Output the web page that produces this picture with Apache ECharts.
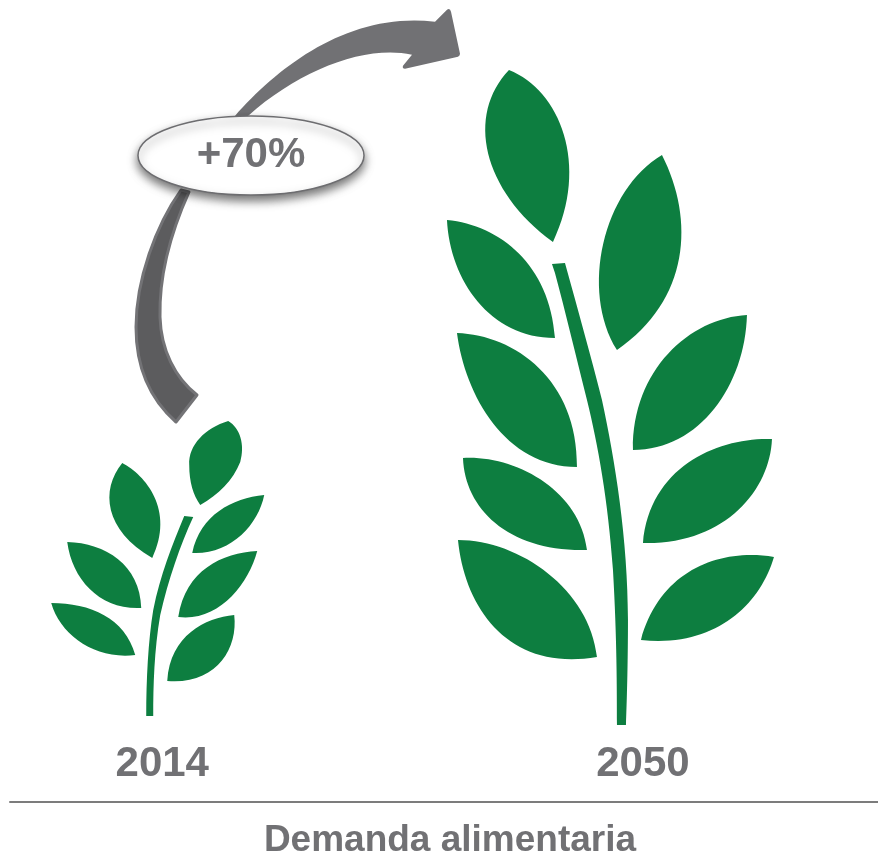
<!DOCTYPE html>
<html>
<head>
<meta charset="utf-8">
<title>Demanda alimentaria</title>
<script src="https://cdn.jsdelivr.net/npm/echarts@6/dist/echarts.min.js"></script>
<style>
    html, body { margin: 0; padding: 0; background: #fff; }
    #main { width: 878px; height: 853px; }
</style>
</head>
<body>
<div id="main"></div>
<script>
'use strict';

// datos
var years = [2014, 2050];
var demand = [100, 170];
var increaseLabel = '+70%';
var axisTitle = 'Demanda alimentaria';

var GREEN = '#0d7e40';
var GREY = '#717174';
var FONT = '"Liberation Sans", Arial, sans-serif';

// planta pequena, un subtrazado por hoja y el tallo al final
var plantSmall = [
    'M50 420L50 420M264 716L264 716',
    'M228 421C205 428 188 445 189 465C189 482 193 495 200 505C218 495 233 480 240 462C245 445 240 428 228 421Z',
    'M122 463C100 490 104 530 152 558C175 510 145 475 122 463Z',
    'M264 495C232 498 200 515 192 553C230 555 258 525 264 495Z',
    'M257 551C222 553 185 570 178 617C218 622 248 585 257 551Z',
    'M234 615C205 618 170 635 167 681C215 685 238 650 234 615Z',
    'M67 542C105 543 140 565 141 608C100 610 72 580 67 542Z',
    'M51 603C90 603 125 618 135 655C95 660 60 635 51 603Z',
    'M184 516L193 517C180 545 168 580 160 615C154 650 153 685 153 716L146 716C146 680 148 640 153 610C160 575 172 545 184 516Z'
].join('');

// planta grande
var plantBig = [
    'M446 70L446 70M775 725L775 725',
    'M509 70C466 115 482 190 553 242C590 165 560 90 509 70Z',
    'M662 155C603 190 580 290 617 350C690 300 695 220 662 155Z',
    'M447 220C450 280 490 338 555 338C550 265 500 225 447 220Z',
    'M457 333C465 395 505 467 577 467C578 380 515 335 457 333Z',
    'M463 458C465 510 510 552 587 550C580 490 515 455 463 458Z',
    'M458 540C465 610 510 672 597 657C590 590 520 540 458 540Z',
    'M747 315C690 318 632 370 633 450C700 450 745 385 747 315Z',
    'M772 439C720 437 650 465 643 543C725 545 770 490 772 439Z',
    'M774 557C720 548 660 570 641 640C715 648 760 605 774 557Z',
    'M552 264L565 263C578 310 592 360 602 400C615 460 628 540 628 620C628 660 627 700 626 725L617 725C617 690 617 640 613 570C608 500 598 445 587 400C577 360 565 310 555 273Z'
].join('');

var plantPaths = [plantSmall, plantBig];
// caja de cada planta respecto a su punto (x del ano, y de la punta)
var plantBoxes = [
    { dx: -112, w: 214, h: 296 },
    { dx: -197, w: 329, h: 655 }
];

var arrowTop = 'M235 116C280 65 350 12 435 22L447 10Q450 8 451 12L460 54Q460 56 458 57L405 69Q402 69 403 66L412 55C365 45 300 70 248 116Z';
var arrowBottom = 'M181 190L189 192C171 232 159 275 160 317C161 350 175 378 197 395L176 422C151 400 136 370 136 327C136 280 156 225 181 190Z';

$main();

function $main() {
    var seriesData = years.map(function(year, i) {
        return [year, demand[i]];
    });

    var option = {
        animation: false,
        backgroundColor: '#fff',
        grid: {
            left: 10,
            right: 0,
            top: 0,
            bottom: 51,
            outerBoundsMode: 'none'
        },
        xAxis: {
            type: 'value',
            min: 2002.6,
            max: 2067.6,
            axisLine: {
                show: true,
                lineStyle: { color: '#7c7c7c', width: 2 }
            },
            axisTick: { show: false },
            splitLine: { show: false },
            axisLabel: {
                inside: true,
                customValues: years,
                margin: 17,
                color: GREY,
                fontFamily: FONT,
                fontWeight: 'bold',
                fontSize: 42,
                formatter: function(value) {
                    return String(value);
                }
            },
            name: axisTitle,
            nameLocation: 'middle',
            nameGap: 20,
            nameTextStyle: {
                color: GREY,
                fontFamily: FONT,
                fontWeight: 'bold',
                fontSize: 37,
                padding: [0, 0, 0, 12]
            }
        },
        yAxis: {
            type: 'value',
            show: false,
            min: 23.6,
            max: 184
        },
        series: [{
            type: 'custom',
            clip: false,
            data: seriesData,
            encode: { x: 0, y: 1 },
            renderItem: function(params, api) {
                var i = params.dataIndex;
                var box = plantBoxes[i];
                var top = api.coord([api.value(0), api.value(1)]);
                return {
                    type: 'path',
                    shape: {
                        pathData: plantPaths[i],
                        x: top[0] + box.dx,
                        y: top[1],
                        width: box.w,
                        height: box.h,
                        layout: 'cover'
                    },
                    style: { fill: GREEN }
                };
            }
        }, {
            // flecha y globo del aumento
            type: 'custom',
            clip: false,
            silent: true,
            data: [seriesData[0]],
            encode: { x: 0, y: 1 },
            renderItem: function() {
                return {
                    type: 'group',
                    children: [{
                        type: 'path',
                        shape: {
                            pathData: arrowTop,
                            x: 235,
                            y: 9,
                            width: 225,
                            height: 107,
                            layout: 'cover'
                        },
                        style: { fill: GREY }
                    }, {
                        type: 'path',
                        shape: {
                            pathData: arrowBottom,
                            x: 136,
                            y: 190,
                            width: 61,
                            height: 232,
                            layout: 'cover'
                        },
                        style: { fill: '#5c5c5e', stroke: '#737376', lineWidth: 3, lineJoin: 'round' }
                    }, {
                        type: 'ellipse',
                        shape: { cx: 251, cy: 155.5, rx: 113, ry: 39.5 },
                        style: {
                            fill: '#fff',
                            stroke: '#6d6d70',
                            lineWidth: 1.5,
                            shadowBlur: 10,
                            shadowOffsetY: 5,
                            shadowColor: 'rgba(0, 0, 0, 0.55)'
                        }
                    }, {
                        type: 'text',
                        x: 251,
                        y: 155,
                        style: {
                            text: increaseLabel,
                            fill: GREY,
                            font: 'bold 42px ' + FONT,
                            textAlign: 'center',
                            textVerticalAlign: 'middle'
                        }
                    }]
                };
            }
        }]
    };

    var myChart = echarts.init(document.getElementById('main'));
    myChart.setOption(option);
}
</script>
</body>
</html>
